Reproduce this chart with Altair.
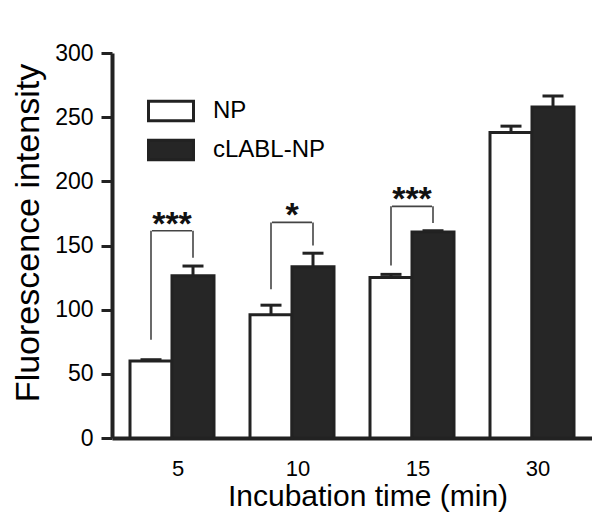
import altair as alt
import pandas as pd

# ---- data ----
times = ["5", "10", "15", "30"]
groups = ["NP", "cLABL-NP"]
np_mean = [60, 96, 125, 238]
np_upper = [61, 103.5, 127.5, 243]
cl_mean = [126.5, 133.5, 160.5, 258]
cl_upper = [134, 144, 161.5, 266.5]

sig_times = ["5", "10", "15"]
sig_left_low = [76.5, 116, 134.5]
sig_top = [161.5, 168, 180.5]
sig_right_low = [140.5, 150, 167.5]
sig_stars = ["***", "*", "***"]

FONT = "Liberation Sans"
INK = "#222222"

bars = pd.DataFrame({
    "time": times * 2,
    "group": [groups[0]] * 4 + [groups[1]] * 4,
    "value": np_mean + cl_mean,
    "upper": np_upper + cl_upper,
})
sig = pd.DataFrame({
    "time": sig_times,
    "lg": [groups[0]] * 3,
    "rg": [groups[1]] * 3,
    "left_low": sig_left_low,
    "top": sig_top,
    "right_low": sig_right_low,
    "stars": sig_stars,
})

off_scale = alt.Scale(domain=groups, paddingInner=0, paddingOuter=0)
x_enc = alt.X(
    "time:N", sort=times,
    scale=alt.Scale(domain=times, paddingInner=0.3, paddingOuter=0.15),
    axis=alt.Axis(
        title="Incubation time (min)", labelAngle=0, ticks=False, tickSize=0,
        labelPadding=20, labelFontSize=22, labelOffset=6, labelColor="black",
        titleFontSize=30, titleFontWeight="normal", titleColor="black",
        titleX=255.5, titleY=58, titleBaseline="middle",
        domainWidth=4, domainColor=INK, labelFont=FONT, titleFont=FONT,
    ),
)
y_scale = alt.Scale(domain=[0, 300], nice=False)
y_axis = alt.Axis(
    title="Fluorescence intensity", values=[0, 50, 100, 150, 200, 250, 300],
    tickSize=11, tickWidth=3, tickColor=INK, domainWidth=4, domainColor=INK,
    labelFontSize=23, labelPadding=8, labelColor="black", labelFont=FONT,
    titleFontSize=34, titleFontWeight="normal", titleColor="black", titleFont=FONT,
    titleX=-84, titleY=179.5, titleBaseline="middle", grid=False,
)

base = alt.Chart(bars)

bar_layer = base.mark_bar(stroke=INK, strokeWidth=3, opacity=1).encode(
    x=x_enc,
    xOffset=alt.XOffset("group:N", scale=off_scale),
    y=alt.Y("value:Q", scale=y_scale, axis=y_axis),
    fill=alt.Fill(
        "group:N",
        scale=alt.Scale(domain=groups, range=["#ffffff", "#262626"]),
        legend=alt.Legend(
            title=None, orient="none", legendX=35, legendY=46,
            symbolType="M-1,-0.43H1V0.43H-1Z", symbolSize=2025,
            symbolStrokeColor=INK, symbolStrokeWidth=3, symbolOpacity=1,
            labelFontSize=24, labelFont=FONT, labelColor="black",
            labelOffset=18, clipHeight=24, rowPadding=15,
        ),
    ),
)

err_rule = base.mark_rule(color=INK, strokeWidth=3).encode(
    x=alt.X("time:N", sort=times),
    xOffset=alt.XOffset("group:N", scale=off_scale),
    y="value:Q",
    y2="upper:Q",
)
err_cap = base.mark_tick(color=INK, thickness=3, size=21, orient="horizontal", opacity=1).encode(
    x=alt.X("time:N", sort=times),
    xOffset=alt.XOffset("group:N", scale=off_scale),
    y="upper:Q",
)

sbase = alt.Chart(sig)
left_leg = sbase.mark_rule(color="#444444", strokeWidth=1.6).encode(
    x=alt.X("time:N", sort=times),
    xOffset=alt.XOffset("lg:N", scale=off_scale),
    y="left_low:Q", y2="top:Q",
)
right_leg = sbase.mark_rule(color="#444444", strokeWidth=1.6).encode(
    x=alt.X("time:N", sort=times),
    xOffset=alt.XOffset("rg:N", scale=off_scale),
    y="right_low:Q", y2="top:Q",
)
top_line = sbase.mark_tick(color="#444444", thickness=1.6, size=40, orient="horizontal", opacity=1).encode(
    x=alt.X("time:N", sort=times),
    y="top:Q",
)
stars = sbase.mark_text(font=FONT, fontSize=34, fontWeight="bold", color="#111111",
                        baseline="alphabetic", dy=4).encode(
    x=alt.X("time:N", sort=times),
    y="top:Q",
    text="stars:N",
)

chart = alt.layer(
    bar_layer, err_rule, err_cap, left_leg, right_leg, top_line, stars
).properties(
    width=480, height=385,
    background="white",
    autosize=alt.AutoSizeParams(type="none"),
    padding={"left": 104, "top": 45, "right": 0, "bottom": 80},
).configure_view(stroke=None)

chart.save("out.html", embed_options={"renderer": "svg", "actions": False})
